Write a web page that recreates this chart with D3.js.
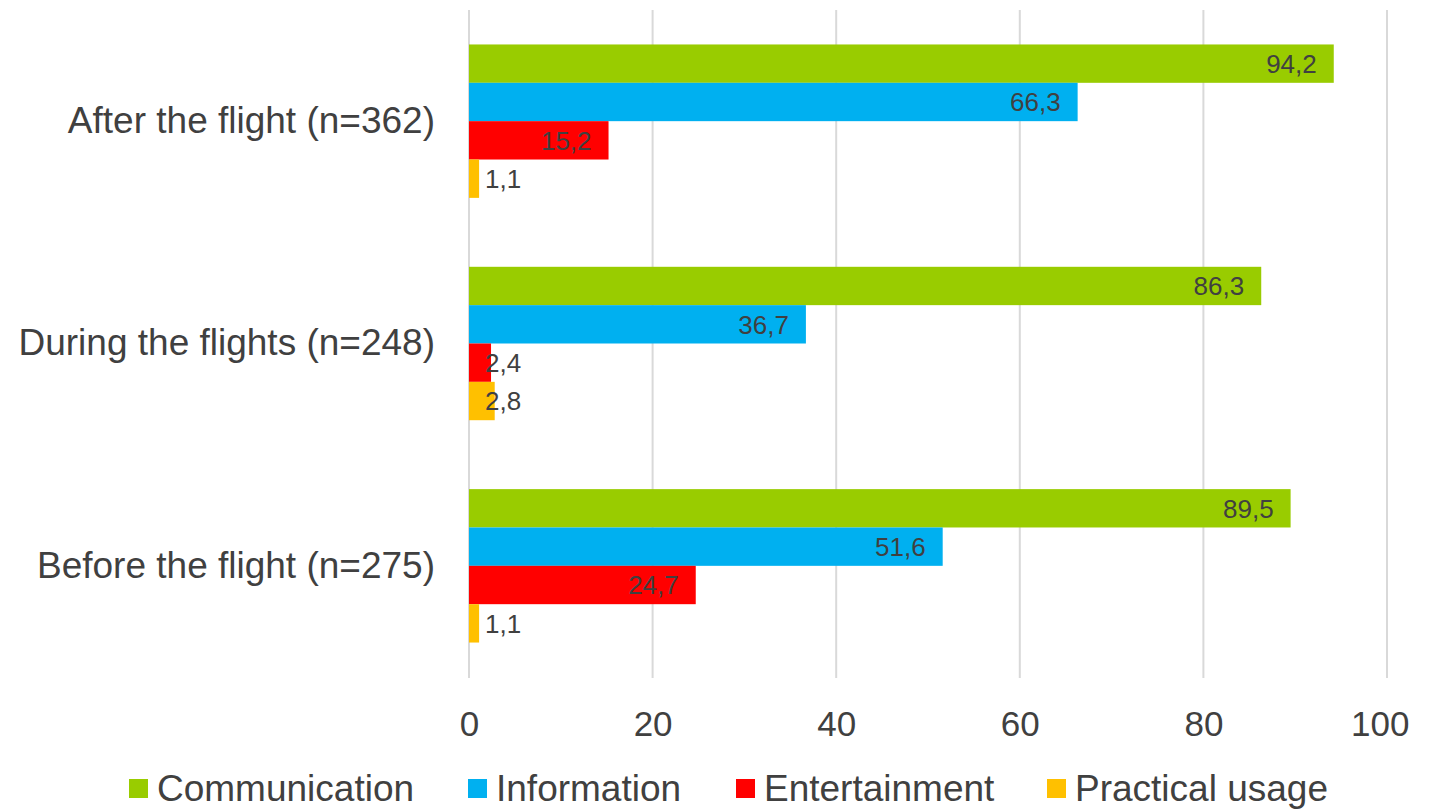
<!DOCTYPE html>
<html>
<head>
<meta charset="utf-8">
<script src="https://cdn.jsdelivr.net/npm/d3@7/dist/d3.min.js"></script>
<style>
  html, body { margin: 0; padding: 0; background: #ffffff; }
  svg { display: block; font-family: "Liberation Sans", Arial, sans-serif; }
</style>
</head>
<body>
<svg id="chart" width="1432" height="809"></svg>
<script>
// Phases of the trip, top to bottom
const categories = ["After the flight (n=362)", "During the flights (n=248)", "Before the flight (n=275)"];
// Usage purposes (series)
const seriesNames = ["Communication", "Information", "Entertainment", "Practical usage"];
const seriesColors = ["#99CC00", "#00B0F0", "#FF0000", "#FFC000"];
// Share of respondents (%) per phase, one array per series
const communication = [94.2, 86.3, 89.5];
const information = [66.3, 36.7, 51.6];
const entertainment = [15.2, 2.4, 24.7];
const practicalUsage = [1.1, 2.8, 1.1];
const tickValues = [0, 20, 40, 60, 80, 100];

const seriesValues = [communication, information, entertainment, practicalUsage];
const rows = categories.map((c, i) => ({
  category: c,
  values: seriesNames.map((s, j) => ({ series: s, color: seriesColors[j], value: seriesValues[j][i] }))
}));

const svg = d3.select("#chart");
const textColor = "#404040";
const fontFamily = "'Liberation Sans', Arial, sans-serif";

const x = d3.scaleLinear().domain([0, 100]).range([469, 1387]);
const y0 = d3.scaleBand().domain(categories).range([10, 677]).paddingInner(0.31).paddingOuter(0.155);
const y1 = d3.scaleBand().domain(seriesNames).range([0, y0.bandwidth()]);

// vertical gridlines
svg.append("g")
  .selectAll("line")
  .data(tickValues)
  .join("line")
  .attr("x1", d => x(d)).attr("x2", d => x(d))
  .attr("y1", 10).attr("y2", 678)
  .attr("stroke", "#D9D9D9")
  .attr("stroke-width", 2);

// x axis tick labels (the last one is kept inside the chart's right edge)
const xAxis = d3.axisBottom(x).tickValues(tickValues).tickSize(0).tickPadding(0).tickFormat(d3.format("d"));
const gx = svg.append("g").attr("transform", "translate(0,710)").call(xAxis);
gx.select(".domain").remove();
gx.selectAll("text")
  .attr("dy", "0.75em")
  .attr("y", 0)
  .attr("fill", textColor)
  .style("font-size", "35px")
  .style("font-family", fontFamily);
gx.selectAll(".tick").filter(d => d === 100).select("text")
  .attr("text-anchor", "end")
  .attr("x", 1409 - x(100));

// category labels
const yAxis = d3.axisLeft(y0).tickSize(0).tickPadding(0);
const gy = svg.append("g").attr("transform", "translate(435,0)").call(yAxis);
gy.select(".domain").remove();
gy.selectAll("text")
  .attr("fill", textColor)
  .style("font-size", "37px")
  .style("font-family", fontFamily);

// bars
const fmt = v => String(v).replace(".", ",");
const groups = svg.append("g")
  .selectAll("g")
  .data(rows)
  .join("g")
  .attr("transform", d => `translate(0,${y0(d.category)})`);

groups.selectAll("rect")
  .data(d => d.values)
  .join("rect")
  .attr("x", x(0))
  .attr("y", d => y1(d.series))
  .attr("width", d => x(d.value) - x(0))
  .attr("height", y1.bandwidth())
  .attr("fill", d => d.color);

// value labels: inside the bar end, or just right of the axis when the bar is too short
const labels = groups.selectAll("text.val")
  .data(d => d.values)
  .join("text")
  .attr("class", "val")
  .attr("y", d => y1(d.series) + y1.bandwidth() / 2)
  .attr("dy", "0.36em")
  .attr("fill", textColor)
  .style("font-size", "26px")
  .text(d => fmt(d.value));

labels.each(function(d) {
  const w = this.getComputedTextLength();
  const endX = x(d.value) - 17;
  const sel = d3.select(this);
  if (endX - w < x(0) + 17) {
    sel.attr("x", x(0) + 16).attr("text-anchor", "start");
  } else {
    sel.attr("x", endX).attr("text-anchor", "end");
  }
});

// legend
const legendX = [129, 468, 736, 1047];
const legend = svg.append("g")
  .selectAll("g")
  .data(seriesNames)
  .join("g")
  .attr("transform", (d, i) => `translate(${legendX[i]},779)`);
legend.append("rect")
  .attr("width", 19).attr("height", 19)
  .attr("fill", (d, i) => seriesColors[i]);
legend.append("text")
  .attr("x", 28)
  .attr("y", 22)
  .attr("fill", textColor)
  .style("font-size", "37px")
  .text(d => d);
</script>
</body>
</html>
